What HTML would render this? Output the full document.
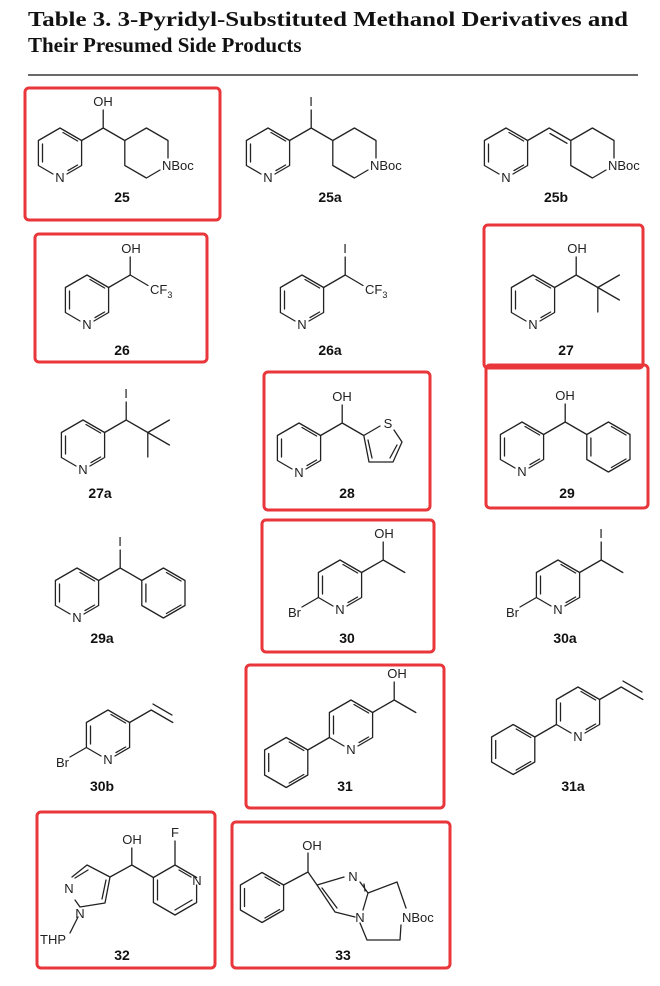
<!DOCTYPE html>
<html><head><meta charset="utf-8"><style>
html,body{margin:0;padding:0;background:#fff;}
svg{display:block;}
.b{fill:none;stroke:#222;stroke-width:1.3;stroke-linecap:round;stroke-linejoin:round;}
.r{fill:none;stroke:#e8363a;stroke-width:3;}
.a{font-family:"Liberation Sans",Arial,sans-serif;font-size:13px;fill:#222;}
.l{font-family:"Liberation Sans",Arial,sans-serif;font-size:14px;font-weight:bold;fill:#111;text-anchor:middle;}
.t{font-family:"Liberation Serif",serif;font-size:21px;font-weight:bold;fill:#111;}
</style></head><body>
<svg width="660" height="986" viewBox="0 0 660 986" xmlns="http://www.w3.org/2000/svg">
<defs>
<g id="py" class="b"><path d="M-21.6,12.5 L-21.6,-12.5 L0,-25 L21.6,-12.5 L21.6,12.5 L7,21 M-21.6,12.5 L-7,21 M-17.5,-9 L-17.5,9 M3,-20.5 L17.6,-12 M17.6,12 L8,17.6"/></g>
<g id="bz" class="b"><path d="M-21.6,12.5 L-21.6,-12.5 L0,-25 L21.6,-12.5 L21.6,12.5 L0,25 Z M-17.5,-9 L-17.5,9 M3,-20.5 L17.6,-12 M17.6,12 L3,20.5"/></g>
</defs>
<text class="t" x="28" y="26" textLength="600" lengthAdjust="spacingAndGlyphs">Table 3. 3-Pyridyl-Substituted Methanol Derivatives and</text>
<text class="t" x="28" y="52">Their Presumed Side Products</text>
<line x1="28" y1="75" x2="638" y2="75" stroke="#111" stroke-width="1.3"/>

<rect class="r" x="25" y="88" width="195" height="132" rx="4"/>
<rect class="r" x="35" y="234" width="172" height="128" rx="4"/>
<rect class="r" x="484" y="225" width="159" height="143" rx="4"/>
<rect class="r" x="264" y="372" width="166" height="138" rx="4"/>
<rect class="r" x="486" y="365" width="162" height="143" rx="4"/>
<rect class="r" x="262" y="520" width="172" height="132" rx="4"/>
<rect class="r" x="246" y="665" width="198" height="143" rx="4"/>
<rect class="r" x="37" y="812" width="178" height="156" rx="4"/>
<rect class="r" x="232" y="822" width="218" height="146" rx="4"/>

<use href="#py" x="60" y="153"/><text class="a" x="60" y="182" text-anchor="middle">N</text>
<path class="b" d="M81.6,140.5 L103.2,128 L103.2,110 M103.2,128 L124.8,140.5 M168,158 L168,140.5 L146.4,128 L124.8,140.5 L124.8,165.5 L146.4,178 L160,170"/>
<text class="a" x="103" y="106" text-anchor="middle">OH</text>
<text class="a" x="162" y="170">NBoc</text>
<text class="l" x="122" y="202">25</text>
<use href="#py" x="268" y="153"/><text class="a" x="268" y="182" text-anchor="middle">N</text>
<path class="b" d="M289.6,140.5 L311.2,128 L311.2,110 M311.2,128 L332.8,140.5 M376,158 L376,140.5 L354.4,128 L332.8,140.5 L332.8,165.5 L354.4,178 L368,170"/>
<text class="a" x="311" y="106" text-anchor="middle">I</text>
<text class="a" x="370" y="170">NBoc</text>
<text class="l" x="330" y="202">25a</text>
<use href="#py" x="506" y="153"/><text class="a" x="506" y="182" text-anchor="middle">N</text>
<path class="b" d="M527.6,140.5 L549.2,128 L570.8,140.5 M550,133.5 L567,143.3 M614,158 L614,140.5 L592.4,128 L570.8,140.5 L570.8,165.5 L592.4,178 L606,170"/>
<text class="a" x="608" y="170">NBoc</text>
<text class="l" x="556" y="202">25b</text>

<use href="#py" x="87" y="300"/><text class="a" x="87" y="329" text-anchor="middle">N</text>
<path class="b" d="M108.6,287.5 L130.2,275 L130.2,257 M130.2,275 L148,285.5"/>
<text class="a" x="131" y="253" text-anchor="middle">OH</text>
<text class="a" x="150" y="294">CF<tspan font-size="9" dy="4">3</tspan></text>
<text class="l" x="122" y="355">26</text>
<use href="#py" x="302" y="300"/><text class="a" x="302" y="329" text-anchor="middle">N</text>
<path class="b" d="M323.6,287.5 L345.2,275 L345.2,257 M345.2,275 L363,285.5"/>
<text class="a" x="345" y="253" text-anchor="middle">I</text>
<text class="a" x="365" y="294">CF<tspan font-size="9" dy="4">3</tspan></text>
<text class="l" x="330" y="355">26a</text>
<use href="#py" x="533" y="300"/><text class="a" x="533" y="329" text-anchor="middle">N</text>
<path class="b" d="M554.6,287.5 L576.2,275 L576.2,257 M576.2,275 L597.8,287.5 L619.4,275 M597.8,287.5 L619.4,300 M597.8,287.5 L597.8,312"/>
<text class="a" x="577" y="253" text-anchor="middle">OH</text>
<text class="l" x="566" y="355">27</text>

<use href="#py" x="83" y="445"/><text class="a" x="83" y="474" text-anchor="middle">N</text>
<path class="b" d="M104.6,432.5 L126.2,420 L126.2,402 M126.2,420 L147.8,432.5 L169.4,420 M147.8,432.5 L169.4,445 M147.8,432.5 L147.8,457"/>
<text class="a" x="126" y="398" text-anchor="middle">I</text>
<text class="l" x="100" y="498">27a</text>
<use href="#py" x="299" y="448"/><text class="a" x="299" y="477" text-anchor="middle">N</text>
<path class="b" d="M320.6,435.5 L342.2,423 L342.2,405 M342.2,423 L363.8,435.5 L380,426 M394,430 L402,442 L393,462 L369,462 L363.8,435.5 M368,440 L372,458 M397,445 L390,458"/>
<text class="a" x="342" y="401" text-anchor="middle">OH</text>
<text class="a" x="388" y="428" text-anchor="middle">S</text>
<text class="l" x="347" y="498">28</text>
<use href="#py" x="522" y="447"/><text class="a" x="522" y="476" text-anchor="middle">N</text>
<path class="b" d="M543.6,434.5 L565.2,422 L565.2,404 M565.2,422 L586.8,434.5"/>
<use href="#bz" x="608.4" y="447"/>
<text class="a" x="565" y="400" text-anchor="middle">OH</text>
<text class="l" x="567" y="498">29</text>

<use href="#py" x="77" y="593"/><text class="a" x="77" y="622" text-anchor="middle">N</text>
<path class="b" d="M98.6,580.5 L120.2,568 L120.2,550 M120.2,568 L141.8,580.5"/>
<use href="#bz" x="163.4" y="593"/>
<text class="a" x="120" y="546" text-anchor="middle">I</text>
<text class="l" x="102" y="643">29a</text>
<use href="#py" x="340" y="585"/><text class="a" x="340" y="614" text-anchor="middle">N</text>
<path class="b" d="M361.6,572.5 L383.2,560 L383.2,542 M383.2,560 L404.8,572.5 M318.4,597.5 L302,607"/>
<text class="a" x="384" y="538" text-anchor="middle">OH</text>
<text class="a" x="301" y="617" text-anchor="end">Br</text>
<text class="l" x="347" y="643">30</text>
<use href="#py" x="558" y="585"/><text class="a" x="558" y="614" text-anchor="middle">N</text>
<path class="b" d="M579.6,572.5 L601.2,560 L601.2,542 M601.2,560 L622.8,572.5 M536.4,597.5 L520,607"/>
<text class="a" x="601" y="538" text-anchor="middle">I</text>
<text class="a" x="519" y="617" text-anchor="end">Br</text>
<text class="l" x="565" y="643">30a</text>

<use href="#py" x="108" y="735"/><text class="a" x="108" y="764" text-anchor="middle">N</text>
<path class="b" d="M129.6,722.5 L151.2,710 L172.8,722.5 M153,704 L172,715 M86.4,747.5 L70,757"/>
<text class="a" x="69" y="767" text-anchor="end">Br</text>
<text class="l" x="102" y="791">30b</text>
<use href="#py" x="351" y="725"/><text class="a" x="351" y="754" text-anchor="middle">N</text>
<path class="b" d="M372.6,712.5 L394.2,700 L394.2,682 M394.2,700 L415.8,712.5 M329.4,737.5 L307.8,750"/>
<use href="#bz" x="286.2" y="762.5"/>
<text class="a" x="397" y="678" text-anchor="middle">OH</text>
<text class="l" x="345" y="791">31</text>
<use href="#py" x="578" y="712"/><text class="a" x="578" y="741" text-anchor="middle">N</text>
<path class="b" d="M599.6,699.5 L621.2,687 L642.8,699.5 M623,681 L642,692 M556.4,724.5 L534.8,737"/>
<use href="#bz" x="513.2" y="749.5"/>
<text class="l" x="573" y="791">31a</text>

<path class="b" d="M153.4,877.5 L131.8,865 L131.8,848 M131.8,865 L110,877 M153.4,877.5 L175,865 L196.6,877.5 M196.6,885 L196.6,902.5 L175,915 L153.4,902.5 L153.4,877.5 M175,865 L175,841 M157.5,880 L157.5,900 M175,910 L192,900 M179,870 L191,877 M110,877 L87,865 L72,877 M75,900 L80,907 L105,903 L110,877 M106,880 L102,899 M88,870 L75,878 M78,917 L70,933"/>
<text class="a" x="132" y="844" text-anchor="middle">OH</text>
<text class="a" x="175" y="837" text-anchor="middle">F</text>
<text class="a" x="197" y="885" text-anchor="middle">N</text>
<text class="a" x="69" y="893" text-anchor="middle">N</text>
<text class="a" x="80" y="918" text-anchor="middle">N</text>
<text class="a" x="40" y="944">THP</text>
<text class="l" x="122" y="960">32</text>
<use href="#bz" x="262" y="897.5"/>
<path class="b" d="M283.6,885 L308,872 L308,853 M308,872 L317,885 L344,877 M360,882 L368,893 L363,910 M355,917 L335,912 L317,885 M322,888 L337,908 M364,884 L365,891 M368,893 L397,882 L406,908 M401,925 L400,940 L367,940 L360,923"/>
<text class="a" x="312" y="850" text-anchor="middle">OH</text>
<text class="a" x="353" y="881" text-anchor="middle">N</text>
<text class="a" x="360" y="922" text-anchor="middle">N</text>
<text class="a" x="402" y="922">NBoc</text>
<text class="l" x="343" y="960">33</text>
</svg>
</body></html>
